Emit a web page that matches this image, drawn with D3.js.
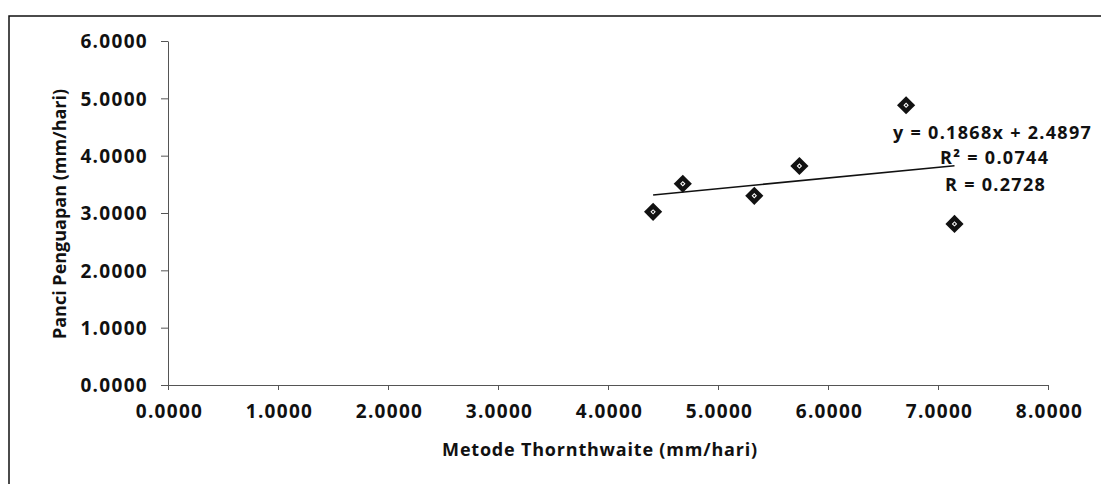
<!DOCTYPE html>
<html>
<head>
<meta charset="utf-8">
<script src="https://cdn.jsdelivr.net/npm/d3@7"></script>
<style>
  body { margin: 0; background: #fff; }
  text { font-family: "Open Sans", sans-serif; font-weight: 700; fill: #111; }
</style>
</head>
<body>
<script>
// Data
const thornthwaite = [4.41, 4.68, 5.33, 5.74, 6.71, 7.15];
const panci = [3.02, 3.51, 3.30, 3.82, 4.88, 2.81];
const xTicks = [0, 1, 2, 3, 4, 5, 6, 7, 8];
const yTicks = [0, 1, 2, 3, 4, 5, 6];
const slope = 0.1868;
const intercept = 2.4897;
const eqLines = ['y = 0.1868x + 2.4897', 'R² = 0.0744', 'R = 0.2728'];

// SVG canvas
const width = 1101;
const height = 484;
const plot = { left: 168, right: 1048, top: 41, bottom: 385 };

const svg = d3.select('body')
  .append('svg')
    .attr('width', width)
    .attr('height', height);

// outer chart border (right/bottom are off the picture)
svg.append('rect')
    .attr('x', 9)
    .attr('y', 16)
    .attr('width', 1200)
    .attr('height', 600)
    .attr('fill', 'none')
    .attr('stroke', '#111')
    .attr('stroke-width', 1.5);

const x = d3.scaleLinear().domain([0, 8]).range([plot.left, plot.right]);
const y = d3.scaleLinear().domain([0, 6]).range([plot.bottom, plot.top]);
const fmt = d3.format('.4f');

// X axis
const xAxis = svg.append('g')
    .attr('transform', `translate(0, ${plot.bottom})`)
    .call(d3.axisBottom(x).tickValues(xTicks).tickFormat(fmt).tickSize(5).tickSizeOuter(0));

// Y axis
const yAxis = svg.append('g')
    .attr('transform', `translate(${plot.left}, 0)`)
    .call(d3.axisLeft(y).tickValues(yTicks).tickFormat(fmt).tickSize(7).tickSizeOuter(0));

[xAxis, yAxis].forEach((ax) => {
  ax.select('.domain').attr('stroke', '#555').attr('stroke-width', 1);
  ax.selectAll('.tick line').attr('stroke', '#555');
  ax.selectAll('.tick text')
      .attr('font-size', 19)
      .attr('letter-spacing', 1.3)
      .attr('fill', '#111');
});
xAxis.selectAll('.tick text').attr('y', 33).attr('dy', 0).attr('dx', 1);
yAxis.selectAll('.tick text').attr('x', -20).attr('dy', '0.36em');

// Axis titles
svg.append('text')
    .attr('x', 600)
    .attr('y', 456)
    .attr('text-anchor', 'middle')
    .attr('font-size', 18)
    .attr('letter-spacing', 0.8)
    .text('Metode Thornthwaite (mm/hari)');

svg.append('text')
    .attr('transform', 'translate(66, 214) rotate(-90)')
    .attr('text-anchor', 'middle')
    .attr('font-size', 18)
    .text('Panci Penguapan (mm/hari)');

// Trendline
const xMin = d3.min(thornthwaite);
const xMax = d3.max(thornthwaite);
svg.append('line')
    .attr('x1', x(xMin))
    .attr('y1', y(slope * xMin + intercept))
    .attr('x2', x(xMax))
    .attr('y2', y(slope * xMax + intercept))
    .attr('stroke', '#111')
    .attr('stroke-width', 1.6);

// Markers
const points = thornthwaite.map((d, i) => ({ x: d, y: panci[i] }));
const marks = svg.selectAll('g.pt')
    .data(points)
  .enter().append('g')
    .attr('class', 'pt')
    .attr('transform', (d) => `translate(${x(d.x)}, ${y(d.y)}) rotate(45)`);

marks.append('path')
    .attr('d', d3.symbol().type(d3.symbolSquare).size(165))
    .attr('fill', '#111');
marks.append('path')
    .attr('d', d3.symbol().type(d3.symbolSquare).size(8))
    .attr('fill', 'none')
    .attr('stroke', '#fff')
    .attr('stroke-width', 1);

// Equation label
const eqPos = [[893, 139], [940, 164], [945, 191]];
svg.selectAll('text.eq')
    .data(eqLines)
  .enter().append('text')
    .attr('class', 'eq')
    .attr('x', (d, i) => eqPos[i][0])
    .attr('y', (d, i) => eqPos[i][1])
    .attr('font-size', 18)
    .attr('letter-spacing', 1.3)
    .text((d) => d);
</script>
</body>
</html>
